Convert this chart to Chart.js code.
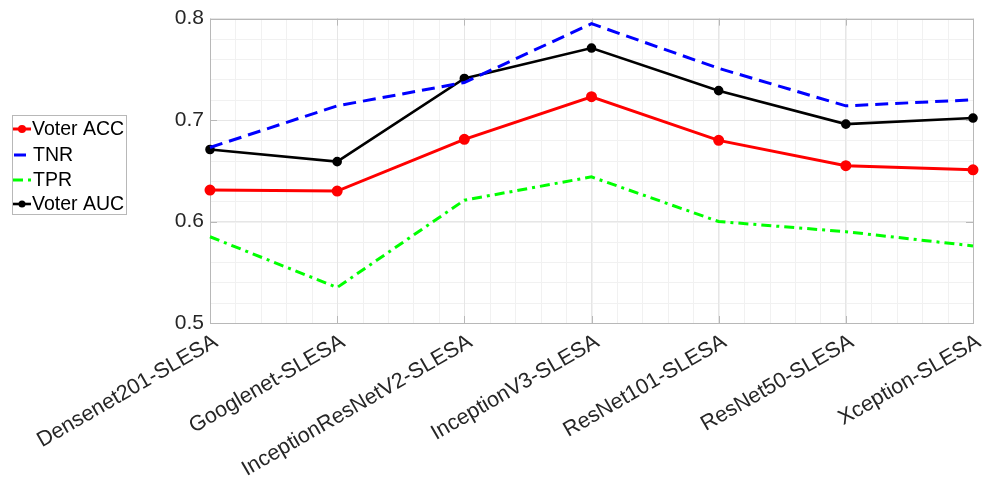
<!DOCTYPE html>
<html>
<head>
<meta charset="utf-8">
<script src="https://cdn.jsdelivr.net/npm/chart.js@4.4.1/dist/chart.umd.min.js"></script>
<style>
  html, body { margin: 0; padding: 0; background: #ffffff; }
  #wrap { width: 986px; height: 485px; }
</style>
</head>
<body>
<div id="wrap"><canvas id="c" width="986" height="485"></canvas></div>
<script>
const categories = ['Densenet201-SLESA', 'Googlenet-SLESA', 'InceptionResNetV2-SLESA', 'InceptionV3-SLESA', 'ResNet101-SLESA', 'ResNet50-SLESA', 'Xception-SLESA'];
const voterAcc = [0.631, 0.630, 0.681, 0.723, 0.680, 0.655, 0.651];
const tnr      = [0.673, 0.714, 0.737, 0.795, 0.751, 0.714, 0.720];
const tpr      = [0.585, 0.535, 0.621, 0.644, 0.600, 0.590, 0.576];
const voterAuc = [0.671, 0.659, 0.741, 0.771, 0.729, 0.696, 0.702];
const yTickValues = [0.5, 0.6, 0.7, 0.8];
const yMinorStep = 0.02;
const xMinorStep = 0.2;
const seriesNames = ['Voter ACC', 'TNR', 'TPR', 'Voter AUC'];

const FONT = '"Liberation Sans", Arial, Helvetica, sans-serif';
const BOX = '#b8b8b8';

const frame = {
  id: 'frame',
  beforeDraw(chart) {
    const {ctx, chartArea: a, scales: {x, y}} = chart;
    ctx.save();
    ctx.strokeStyle = '#f1f1f1';
    ctx.lineWidth = 1;
    ctx.beginPath();
    const yMin = yTickValues[0], yMax = yTickValues[yTickValues.length - 1];
    const nY = Math.round((yMax - yMin) / yMinorStep);
    for (let i = 1; i < nY; i++) {
      const py = Math.round(y.getPixelForValue(yMin + i * yMinorStep)) + 0.5;
      ctx.moveTo(a.left, py); ctx.lineTo(a.right, py);
    }
    const nX = Math.round((categories.length - 1) / xMinorStep);
    for (let i = 1; i < nX; i++) {
      const px = Math.round(x.getPixelForValue(i * xMinorStep)) + 0.5;
      ctx.moveTo(px, a.top); ctx.lineTo(px, a.bottom);
    }
    ctx.stroke();
    ctx.restore();
  },
  beforeDatasetsDraw(chart) {
    const {ctx, chartArea: a, scales: {x, y}} = chart;
    ctx.save();
    ctx.strokeStyle = BOX;
    ctx.lineWidth = 1;
    ctx.strokeRect(Math.round(a.left) + 0.5, Math.round(a.top) + 0.5, Math.round(a.right - a.left), Math.round(a.bottom - a.top));
    ctx.beginPath();
    const tl = 7;
    yTickValues.forEach(v => {
      const py = Math.round(y.getPixelForValue(v)) + 0.5;
      ctx.moveTo(a.left, py); ctx.lineTo(a.left + tl, py);
      ctx.moveTo(a.right, py); ctx.lineTo(a.right - tl, py);
    });
    categories.forEach((c, i) => {
      const px = Math.round(x.getPixelForValue(i)) + 0.5;
      ctx.moveTo(px, a.bottom); ctx.lineTo(px, a.bottom - tl);
      ctx.moveTo(px, a.top); ctx.lineTo(px, a.top + tl);
    });
    ctx.stroke();
    ctx.restore();
  },
  afterDraw(chart) {
    const {ctx} = chart;
    ctx.save();
    ctx.fillStyle = '#ffffff';
    ctx.fillRect(12, 115, 115, 100);
    ctx.strokeStyle = BOX;
    ctx.lineWidth = 1;
    ctx.strokeRect(12.5, 115.5, 114, 99);
    const rowY = [129, 155, 180, 204];
    chart.data.datasets.forEach((ds, i) => {
      const yy = rowY[i];
      ctx.save();
      ctx.strokeStyle = ds.borderColor;
      ctx.lineWidth = ds.borderWidth;
      ctx.setLineDash(ds.borderDash || []);
      ctx.beginPath();
      if (i === 1) { ctx.moveTo(14, yy); ctx.lineTo(26, yy); }
      else { ctx.moveTo(13, yy); ctx.lineTo(31, yy); }
      ctx.stroke();
      ctx.restore();
      if (ds.pointRadius > 0) {
        ctx.fillStyle = ds.pointBackgroundColor;
        ctx.beginPath();
        ctx.arc(22, yy, ds.pointRadius, 0, Math.PI * 2);
        ctx.fill();
      }
      ctx.fillStyle = '#000000';
      ctx.font = '19.5px ' + FONT;
      ctx.textBaseline = 'middle';
      ctx.textAlign = 'left';
      ctx.fillText(ds.label, i === 1 || i === 2 ? 33 : 32, yy + 1);
    });
    ctx.restore();
  }
};

new Chart(document.getElementById('c'), {
  type: 'line',
  data: {
    labels: categories,
    datasets: [
      { label: seriesNames[0], data: voterAcc, borderColor: '#ff0000', backgroundColor: '#ff0000',
        pointBackgroundColor: '#ff0000', pointBorderColor: '#ff0000', borderWidth: 3, pointRadius: 4, clip: false },
      { label: seriesNames[1], data: tnr, borderColor: '#0000ff', backgroundColor: '#0000ff',
        borderWidth: 3, borderDash: [13, 7], pointRadius: 0, clip: false },
      { label: seriesNames[2], data: tpr, borderColor: '#00ff00', backgroundColor: '#00ff00',
        borderWidth: 3, borderDash: [10, 5, 3, 5], pointRadius: 0, clip: false },
      { label: seriesNames[3], data: voterAuc, borderColor: '#000000', backgroundColor: '#000000',
        pointBackgroundColor: '#000000', pointBorderColor: '#000000', borderWidth: 2.6, pointRadius: 3.5, clip: false }
    ]
  },
  options: {
    responsive: false,
    animation: false,
    layout: { padding: { left: 0, top: 18, right: 13, bottom: 0 } },
    elements: { line: { tension: 0, borderCapStyle: 'butt' }, point: { borderWidth: 0, hoverRadius: 4 } },
    plugins: { legend: { display: false }, tooltip: { enabled: false } },
    scales: {
      x: {
        type: 'category',
        offset: false,
        grid: { color: '#e6e6e6', drawTicks: false, lineWidth: 1 },
        border: { display: false },
        ticks: { color: '#262626', font: { family: FONT, size: 21.5 }, minRotation: 30, maxRotation: 30,
                 autoSkip: false, padding: 6, labelOffset: 6 },
        afterFit(s) { s.height = 162; s.paddingLeft = 0; s.paddingRight = 0; }
      },
      y: {
        min: 0.5, max: 0.8,
        grid: { color: '#e6e6e6', drawTicks: false, lineWidth: 1 },
        border: { display: false },
        afterBuildTicks(s) { s.ticks = yTickValues.map(v => ({ value: v })); },
        ticks: { color: '#262626', font: { family: FONT, size: 21 }, padding: 6,
                 callback: v => Number(v).toFixed(1) },
        afterFit(s) { s.width = 210; }
      }
    }
  },
  plugins: [frame]
});
</script>
</body>
</html>
